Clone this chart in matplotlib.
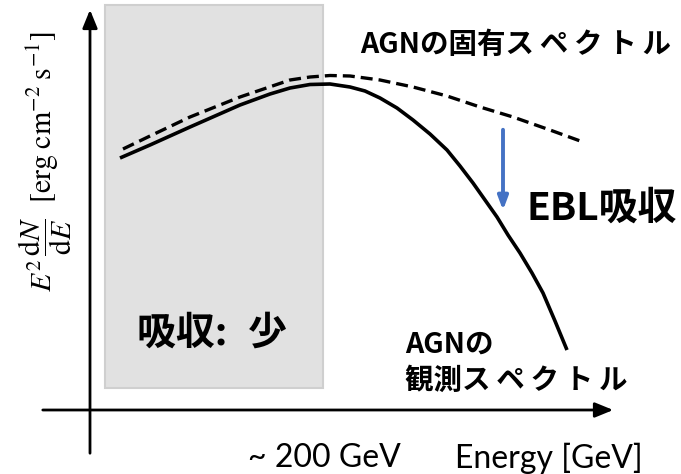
import matplotlib.pyplot as plt
import matplotlib.patches as patches

plt.rcParams['font.family'] = ['Noto Sans CJK JP', 'DejaVu Sans']
plt.rcParams['mathtext.fontset'] = 'stix'

obs_x = [120, 150, 190, 240, 270, 290, 310, 330, 350, 365, 380, 397, 413, 430, 447,
         460, 473, 485, 497, 508, 520, 532, 543, 555, 567]
obs_y = [158, 145, 127, 105, 94, 88, 84.5, 84, 87, 91, 98, 108, 120, 134, 150,
         166, 183, 200, 217, 235, 253, 273, 293, 321, 350]

# Intrinsic spectrum (dashed)
int_x = [123, 150, 190, 240, 290, 310, 330, 350, 380, 413, 447, 480, 513, 550, 583]
int_y = [149, 136, 117, 97, 80, 77, 75.5, 76, 80, 87, 96, 107, 117, 130, 142]

# low-absorption band (~ below 200 GeV)
band_x = (105, 323)
band_y = (5, 388)

SP = '\u2009'  # small gap between katakana, as in the original


def spread(s):
    return SP.join(s)


fig = plt.figure(figsize=(6.81, 4.74), dpi=100)
ax = fig.add_axes([0, 0, 1, 1])
ax.set_xlim(0, 681)
ax.set_ylim(474, 0)
ax.axis('off')

# grey band
ax.add_patch(patches.Rectangle((band_x[0], band_y[0]), band_x[1] - band_x[0],
                               band_y[1] - band_y[0], facecolor='#e1e1e1',
                               edgecolor='#cfcfcf', lw=1.5, zorder=1))

# axes arrows
arrow = dict(arrowstyle='-|>,head_length=1.1,head_width=0.45', color='black', lw=2)
ax.annotate('', xy=(90, 7), xytext=(90, 456), arrowprops=arrow, zorder=3)
ax.annotate('', xy=(616, 410), xytext=(40, 410), arrowprops=arrow, zorder=3)

# spectra
ax.plot(obs_x, obs_y, color='black', lw=2.6, solid_capstyle='butt', zorder=4)
ax.plot(int_x, int_y, color='black', lw=2.4, dashes=(3.6, 1.8), zorder=4)

# EBL absorption arrow
ax.annotate('', xy=(503, 213), xytext=(503, 127),
            arrowprops=dict(arrowstyle='-|>,head_length=0.8,head_width=0.3',
                            color='#4472C4', lw=2.8), zorder=4)

# labels
bold = dict(fontweight='bold', ha='left', va='center')
ax.text(360, 45, 'AGNの固有' + spread('スペクトル'), fontsize=20.5, **bold)
ax.text(527, 208, 'EBL吸収', fontsize=28, **bold)
ax.text(137, 333, '吸収:' + '\u2004\u2009' + '少', fontsize=28, **bold)
ax.text(405, 345, 'AGNの', fontsize=20.5, **bold)
ax.text(405, 381, '観測' + spread('スペクトル'), fontsize=20.5, **bold)

ax.text(248, 458, '~ 200 GeV', fontsize=23, family=['Lato', 'DejaVu Sans'],
        ha='left', va='center')
ax.text(455, 458, 'Energy [GeV]', fontsize=23, family=['Lato', 'DejaVu Sans'],
        ha='left', va='center')

ax.text(45, 162, r'$E^2\,\dfrac{\mathrm{d}N}{\mathrm{d}E}\ \ [\mathrm{erg\;cm^{-2}\;s^{-1}}]$',
        fontsize=21.5, rotation=90, ha='center', va='center')

fig.savefig('out.png', dpi=100)
